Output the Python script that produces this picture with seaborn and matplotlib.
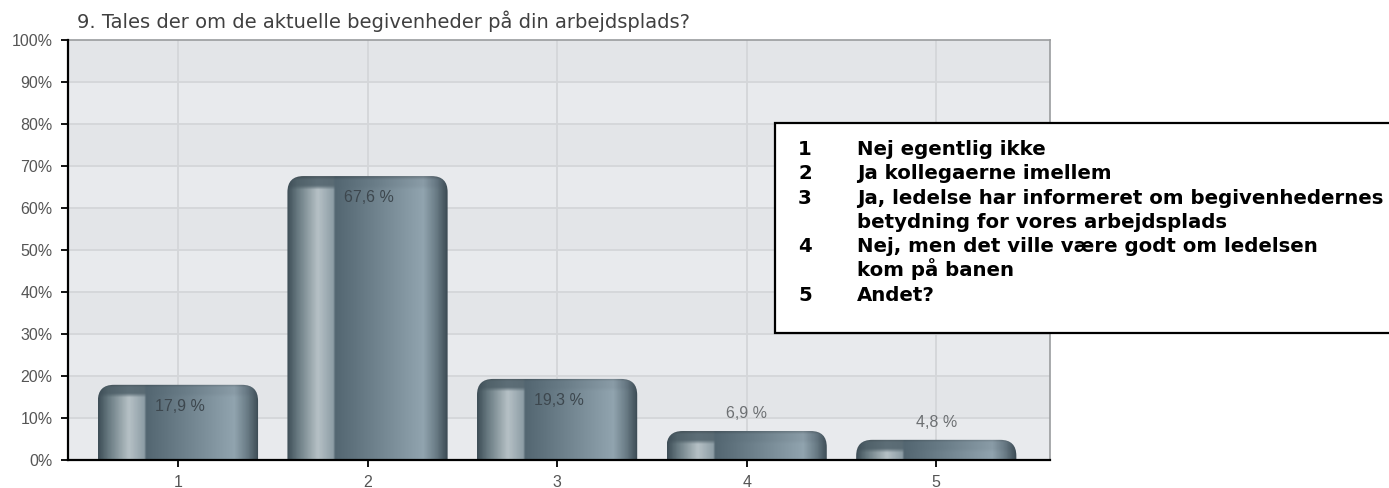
import numpy as np
import matplotlib
matplotlib.use('Agg')
import matplotlib.pyplot as plt
import seaborn as sns
from matplotlib.patches import FancyBboxPatch, Rectangle
from matplotlib.colors import LinearSegmentedColormap

# Data
categories = ['1', '2', '3', '4', '5']
values = [17.9, 67.6, 19.3, 6.9, 4.8]
title = '9. Tales der om de aktuelle begivenheder på din arbejdsplads?'
legend_numbers = ['1', '2', '3', '', '4', '', '5']
legend_texts = ['Nej egentlig ikke',
                'Ja kollegaerne imellem',
                'Ja, ledelse har informeret om begivenhedernes',
                'betydning for vores arbejdsplads',
                'Nej, men det ville være godt om ledelsen',
                'kom på banen',
                'Andet?']

sns.set_style('white')
plt.rcParams['font.family'] = ['Liberation Sans', 'DejaVu Sans']

fig = plt.figure(figsize=(13.89, 4.88), dpi=100)
ax = fig.add_axes([68 / 1389, 1 - 460 / 488, (1050 - 68) / 1389, (460 - 40) / 488])

sns.barplot(x=categories, y=values, ax=ax, color='#5f717c', width=0.845)

ax.set_xlim(-0.58, 4.6)
ax.set_ylim(0, 100)
ax.set_facecolor('#e6e8eb')

# alternating bands + grid
for lo in range(0, 100, 20):
    ax.axhspan(lo, lo + 10, color='#e8eaed', zorder=0, lw=0)
    ax.axhspan(lo + 10, lo + 20, color='#e3e5e8', zorder=0, lw=0)
for y in range(10, 100, 10):
    ax.axhline(y, color='#d4d6d9', lw=1.3, zorder=0.5)
for x in range(len(categories)):
    ax.axvline(x, color='#d4d6d9', lw=1.3, zorder=0.5)

# cylinder style gradient
body = LinearSegmentedColormap.from_list('body', [
    (0.0, '#3e4e57'), (0.06, '#66787f'), (0.19, '#b6c1c6'), (0.285, '#8e9ea6'),
    (0.30, '#536671'), (0.55, '#6f828d'), (0.85, '#91a4af'), (0.93, '#6a7c86'),
    (1.0, '#3c4b54')])
top = LinearSegmentedColormap.from_list('top', [
    (0.0, '#3e4e57'), (0.06, '#506169'), (0.19, '#5d6e77'), (0.285, '#5a6b74'),
    (0.30, '#536671'), (0.55, '#6a7d88'), (0.85, '#8a9ca7'), (0.93, '#667782'),
    (1.0, '#3c4b54')])
xs = np.linspace(0, 1, 300)
px_per_y = 420 / 100
px_per_x = 189.5

for p, v in zip(list(ax.patches), values):
    x0, w = p.get_x(), p.get_width()
    p.set_visible(False)
    r_x = 16 / px_per_x
    r_y = 16 / px_per_y
    box = FancyBboxPatch((x0, -r_y * 2), w, v + r_y * 2,
                         boxstyle='round,pad=0,rounding_size=%f' % r_x,
                         mutation_aspect=r_y / r_x,
                         facecolor='none', edgecolor='none', zorder=2)
    ax.add_patch(box)
    rows = 240
    total_px = v * px_per_y
    ys = np.linspace(0, total_px, rows)  # 0 = top of bar
    t = np.clip((ys - 9) / 4, 0, 1)[:, None, None]
    img = t * body(xs)[None, :, :3] + (1 - t) * top(xs)[None, :, :3]
    # slight darker rim on the very top
    rim = np.clip(1 - ys / 3, 0, 1)[:, None, None]
    img = img * (1 - 0.2 * rim)
    img = np.clip(img, 0, 1)
    im = ax.imshow(img, extent=(x0, x0 + w, 0, v), aspect='auto',
                   origin='upper', zorder=2, interpolation='bilinear')
    im.set_clip_path(box)

# value labels
for i, v in enumerate(values):
    txt = ('%.1f %%' % v).replace('.', ',')
    if v > 15:
        ax.text(i + 0.01, v - 5.1, txt, ha='center', va='center',
                fontsize=11.5, color='#3d474e', zorder=3)
    else:
        ax.text(i, v + 4.2, txt, ha='center', va='center',
                fontsize=11.5, color='#6d7073', zorder=3)

ax.set_ylim(0, 100)
ax.set_yticks(range(0, 101, 10))
ax.set_yticklabels(['%d%%' % t for t in range(0, 101, 10)])
ax.tick_params(axis='y', labelsize=11.5, labelcolor='#555555', length=5,
               width=1.3, color='black', direction='out', left=True, pad=6)
ax.tick_params(axis='x', labelsize=11.5, labelcolor='#555555', length=5,
               width=1.3, color='black', direction='out', bottom=True, pad=6)
ax.set_xlabel('')
ax.set_ylabel('')
for s in ['left', 'bottom']:
    ax.spines[s].set_color('black')
    ax.spines[s].set_linewidth(1.6)
    ax.spines[s].set_zorder(4)
for s in ['top', 'right']:
    ax.spines[s].set_visible(True)
    ax.spines[s].set_color('#9a9c9e')
    ax.spines[s].set_linewidth(1.2)

fig.text(77 / 1389, 1 - 28.5 / 488, title, fontsize=14, color='#404040',
         family='DejaVu Sans', ha='left', va='baseline')

# legend box
fig.patches.append(Rectangle((775 / 1389, 1 - 333 / 488), 1.0, (333 - 123) / 488,
                             transform=fig.transFigure, facecolor='white',
                             edgecolor='black', lw=1.6, zorder=5))
for k, (n, t) in enumerate(zip(legend_numbers, legend_texts)):
    yy = 1 - (155 + 24.3 * k) / 488
    fig.text(798 / 1389, yy, n, fontsize=14.2, fontweight='bold',
             family='DejaVu Sans', color='black', va='baseline', zorder=6)
    fig.text(857 / 1389, yy, t, fontsize=14.2, fontweight='bold',
             family='DejaVu Sans', color='black', va='baseline', zorder=6)

fig.savefig('out.png', dpi=100)
